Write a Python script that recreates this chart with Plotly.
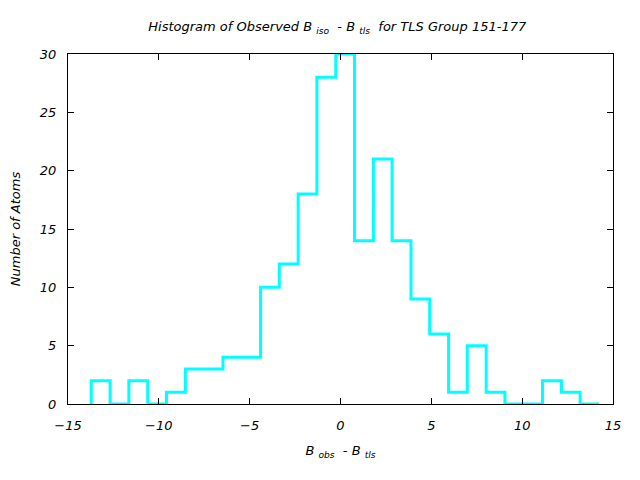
import plotly.graph_objects as go

bin_edges = [-13.72, -12.68, -11.65, -10.61, -9.58, -8.54, -7.51, -6.47, -5.44,
             -4.40, -3.37, -2.33, -1.30, -0.26, 0.77, 1.81, 2.84, 3.88, 4.91,
             5.95, 6.98, 8.02, 9.05, 10.09, 11.12, 12.16, 13.19, 14.23]
counts = [2, 0, 2, 0, 1, 3, 3, 4, 4, 10, 12, 18, 28, 30, 14, 21, 14, 9, 6,
          1, 5, 1, 0, 0, 2, 1, 0]

xs = [bin_edges[0]] + bin_edges
ys = [0] + counts + [counts[-1]]

font_family = "DejaVu Sans"

fig = go.Figure()
fig.add_trace(go.Scatter(x=xs, y=ys, mode="lines",
                         line=dict(color="#00FFFF", width=3, shape="hv"),
                         showlegend=False, hoverinfo="skip"))

axis_common = dict(showline=True, linecolor="black", linewidth=1, mirror="ticks",
                   ticks="inside", ticklen=6, tickcolor="black", showgrid=False,
                   zeroline=False,
                   tickfont=dict(family=font_family, size=13, color="black", style="italic"))

fig.update_xaxes(range=[-15, 15], tickvals=[-15, -10, -5, 0, 5, 10, 15],
                 ticklabelstandoff=9,
                 title=dict(text="<i>B <sub>obs</sub>  - B <sub>tls</sub></i>",
                            font=dict(family=font_family, size=13, color="black"),
                            standoff=14),
                 **axis_common)
fig.update_yaxes(range=[0, 30], tickvals=[0, 5, 10, 15, 20, 25, 30],
                 ticklabelstandoff=8,
                 title=dict(text="<i>Number of Atoms</i>",
                            font=dict(family=font_family, size=13, color="black"),
                            standoff=16),
                 **axis_common)

fig.update_layout(
    width=640, height=480,
    margin=dict(l=68, r=27, t=54, b=76),
    plot_bgcolor="white", paper_bgcolor="white",
    title=dict(text="<i>Histogram of Observed B <sub>iso</sub>  - B <sub>tls</sub>  for TLS Group 151-177</i>",
               x=0.527, xanchor="center", y=0.945, yanchor="middle",
               font=dict(family=font_family, size=13, color="black")),
)

fig.write_html("out.html")
